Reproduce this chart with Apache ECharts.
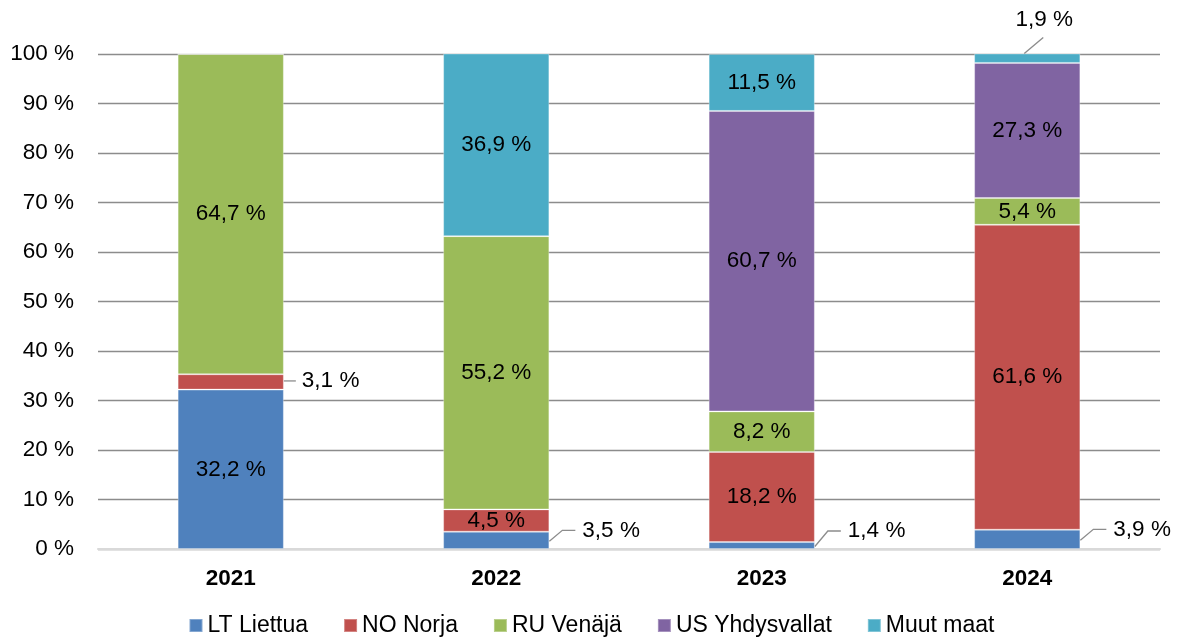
<!DOCTYPE html>
<html>
<head>
<meta charset="utf-8">
<script src="https://cdn.jsdelivr.net/npm/echarts@6/dist/echarts.min.js"></script>
<style>
html, body { margin: 0; padding: 0; background: #fff; }
#chartBar { width: 1183px; height: 637px; }
</style>
</head>
<body>
<div id="chartBar"></div>
<script>
const years = ['2021', '2022', '2023', '2024'];
const countries = ['LT Liettua', 'NO Norja', 'RU Venäjä', 'US Yhdysvallat', 'Muut maat'];
const lt = [32.2, 3.5, 1.4, 3.9];
const no = [3.1, 4.5, 18.2, 61.6];
const ru = [64.7, 55.2, 8.2, 5.4];
const us = [0, 0, 60.7, 27.3];
const muut = [0, 36.9, 11.5, 1.9];
const colors = ['#4F81BD', '#C0504D', '#9BBB59', '#8064A2', '#4BACC6'];

const values = [lt, no, ru, us, muut];
const font = 'Liberation Sans, Arial, sans-serif';

// leader line points, filled in while labels are laid out
const leaders = {};

const layoutFor = (sIdx) => (p) => {
  const v = values[sIdx][p.dataIndex];
  if (!v || v >= 4) return {};
  const r = p.rect;
  const key = sIdx + '_' + p.dataIndex;
  const right = r.x + r.width;
  const cy = r.y + r.height / 2;
  if (sIdx === 4) {
    // small top slice: label above the bar
    const cx = r.x + r.width / 2;
    leaders[key] = [[cx - 3, r.y], [cx + 16, r.y - 16]];
    return { x: cx + 17, y: r.y - 34, align: 'center', verticalAlign: 'middle' };
  }
  if (sIdx === 0) {
    const ly = Math.min(cy - 10, r.y + r.height - 18);
    leaders[key] = [[right, cy + 1], [right + 13, ly], [right + 26, ly]];
    return { x: right + 33, y: ly, align: 'left', verticalAlign: 'middle' };
  }
  leaders[key] = [[right, cy - 1], [right + 12, cy - 1]];
  return { x: right + 18, y: cy - 1, align: 'left', verticalAlign: 'middle' };
};

const fmt = (p) => p.value ? p.value.toFixed(1).replace('.', ',') + ' %' : '';

const chartDom = document.getElementById('chartBar');
const myChart = echarts.init(chartDom);

const option = {
  animation: false,
  color: colors,
  grid: {
    left: 98,
    right: 23,
    top: 54,
    bottom: 88
  },
  legend: {
    data: countries,
    top: 609,
    left: 'center',
    icon: 'rect',
    itemWidth: 13,
    itemHeight: 13,
    itemGap: 35,
    textStyle: { fontFamily: font, fontSize: 23, color: '#000' }
  },
  xAxis: {
    type: 'category',
    data: years,
    axisTick: { show: false },
    axisLine: { lineStyle: { color: '#d9d9d9', width: 2 } },
    axisLabel: { margin: 18, fontFamily: font, fontSize: 22.5, fontWeight: 'bold', color: '#000' }
  },
  yAxis: {
    type: 'value',
    min: 0,
    max: 100,
    interval: 10,
    axisLine: { show: false },
    axisTick: { show: false },
    axisLabel: {
      margin: 24,
      fontFamily: font,
      fontSize: 22.5,
      color: '#000',
      formatter: (v) => v + ' %'
    },
    splitLine: { lineStyle: { color: '#8c8c8c', width: 1.3 } }
  },
  series: countries.map((name, i) => ({
    name: name,
    type: 'bar',
    stack: 'total',
    barWidth: '40%',
    data: values[i],
    itemStyle: { borderColor: 'rgba(255,255,255,0.3)', borderWidth: 1 },
    label: {
      show: true,
      position: 'inside',
      fontFamily: font,
      fontSize: 22.5,
      color: '#000',
      formatter: fmt
    },
    labelLayout: layoutFor(i)
  }))
};

option && myChart.setOption(option);

myChart.setOption({
  graphic: Object.keys(leaders).map((k) => ({
    type: 'polyline',
    silent: true,
    z: 100,
    shape: { points: leaders[k] },
    style: { stroke: '#8c8c8c', lineWidth: 1.3, fill: 'none' }
  }))
});
</script>
</body>
</html>
